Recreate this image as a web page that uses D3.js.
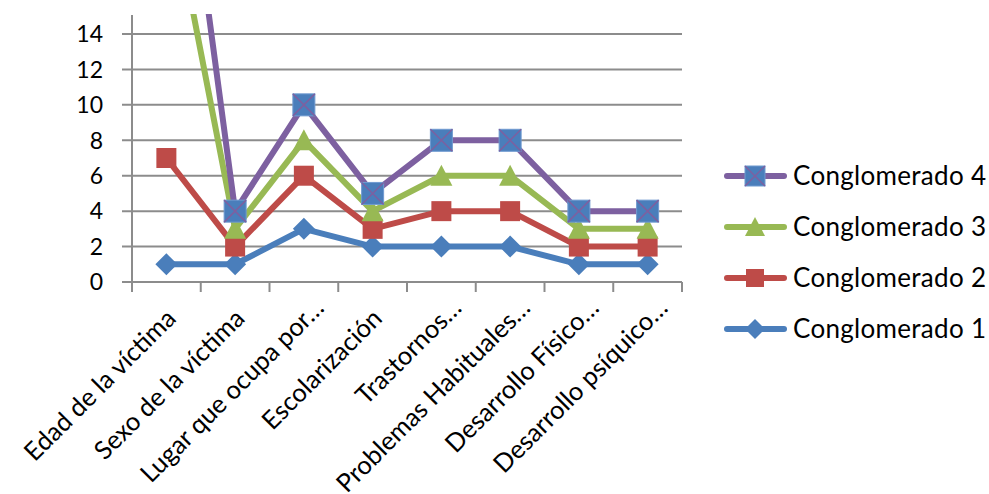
<!DOCTYPE html>
<html>
<head>
<meta charset="utf-8">
<script src="https://cdn.jsdelivr.net/npm/d3@7"></script>
<style>
  html, body { margin: 0; padding: 0; background: #fff; }
  svg { display: block; }
</style>
</head>
<body>
<svg id="chart" width="989" height="494"></svg>
<script>
// Categories along the x axis
const categories = [
  "Edad de la víctima",
  "Sexo de la víctima",
  "Lugar que ocupa por…",
  "Escolarización",
  "Trastornos…",
  "Problemas Habituales…",
  "Desarrollo Físico…",
  "Desarrollo psíquico…"
];

// Series values
const conglomerado1 = [1, 1, 3, 2, 2, 2, 1, 1];
const conglomerado2 = [7, 2, 6, 3, 4, 4, 2, 2];
const conglomerado3 = [23, 3, 8, 4, 6, 6, 3, 3];
const conglomerado4 = [33, 4, 10, 5, 8, 8, 4, 4];

const seriesNames = ["Conglomerado 1", "Conglomerado 2", "Conglomerado 3", "Conglomerado 4"];
const yTicks = [0, 2, 4, 6, 8, 10, 12, 14];

const series = [
  { name: seriesNames[0], values: conglomerado1, color: "#4A7EBB", marker: "diamond" },
  { name: seriesNames[1], values: conglomerado2, color: "#BE4B48", marker: "square" },
  { name: seriesNames[2], values: conglomerado3, color: "#98B954", marker: "triangle" },
  { name: seriesNames[3], values: conglomerado4, color: "#7D60A0", marker: "xsquare" }
];

const svg = d3.select("#chart");
const plot = { left: 132, right: 682, top: 15, bottom: 282 };

const x = d3.scaleBand().domain(categories).range([plot.left, plot.right]);
const y = d3.scaleLinear().domain([0, 14]).range([plot.bottom, 34]);

const gridColor = "#8C8C8C";
const font = "Lato, 'Noto Sans', sans-serif";

// Horizontal gridlines with their tick marks
svg.append("g")
  .selectAll("line")
  .data(yTicks)
  .join("line")
  .attr("x1", plot.left - 10)
  .attr("x2", plot.right)
  .attr("y1", d => y(d))
  .attr("y2", d => y(d))
  .attr("stroke", gridColor)
  .attr("stroke-width", 2);

// Y axis line
svg.append("line")
  .attr("x1", plot.left).attr("x2", plot.left)
  .attr("y1", plot.top).attr("y2", plot.bottom)
  .attr("stroke", gridColor).attr("stroke-width", 2);

// X axis tick marks at category boundaries
const boundaries = categories.map(c => x(c)).concat([plot.right]);
svg.append("g")
  .selectAll("line")
  .data(boundaries)
  .join("line")
  .attr("x1", d => d).attr("x2", d => d)
  .attr("y1", plot.bottom).attr("y2", plot.bottom + 10)
  .attr("stroke", gridColor).attr("stroke-width", 2);

// Y tick labels
svg.append("g")
  .selectAll("text")
  .data(yTicks)
  .join("text")
  .attr("x", 103)
  .attr("y", d => y(d))
  .attr("dy", "0.36em")
  .attr("text-anchor", "end")
  .attr("font-family", font)
  .attr("font-size", 23)
  .attr("fill", "#000")
  .text(d => d);

// Category labels, rotated; truncated labels sit a little further along
svg.append("g")
  .selectAll("text")
  .data(categories)
  .join("text")
  .attr("transform", d => `translate(${x(d) + x.bandwidth() / 2 + 11},${plot.bottom + 38}) rotate(-45)`)
  .attr("dx", d => d.endsWith("…") ? 15 : 0)
  .attr("text-anchor", "end")
  .attr("font-family", font)
  .attr("font-size", 25.5)
  .attr("fill", "#000")
  .text(d => d);

// Clip region for the plotting area
svg.append("defs").append("clipPath").attr("id", "plotClip")
  .append("rect")
  .attr("x", plot.left - 20).attr("y", plot.top - 1)
  .attr("width", plot.right - plot.left + 40).attr("height", plot.bottom - plot.top + 40);

const line = d3.line()
  .x((d, i) => x(categories[i]) + x.bandwidth() / 2)
  .y(d => y(d));

function drawMarker(g, type, color, size) {
  const h = size / 2;
  if (type === "diamond") {
    g.append("path")
      .attr("d", `M0,${-h - 1}L${h + 1},0L0,${h + 1}L${-h - 1},0Z`)
      .attr("fill", color);
  } else if (type === "square") {
    g.append("rect")
      .attr("x", -h).attr("y", -h).attr("width", size).attr("height", size)
      .attr("fill", color);
  } else if (type === "triangle") {
    g.append("path")
      .attr("d", `M0,${-h - 1}L${h + 1},${h}L${-h - 1},${h}Z`)
      .attr("fill", color);
  } else if (type === "xsquare") {
    const s = h + 1;
    g.append("rect")
      .attr("x", -s).attr("y", -s).attr("width", 2 * s).attr("height", 2 * s)
      .attr("fill", "#4A7EBB").attr("stroke", "#6F9AD0").attr("stroke-width", 1);
    g.append("path")
      .attr("d", `M${-s},${-s}L${s},${s}M${s},${-s}L${-s},${s}`)
      .attr("stroke", color).attr("stroke-width", 1.5);
  }
}

const plotG = svg.append("g").attr("clip-path", "url(#plotClip)");

series.forEach(s => {
  const g = plotG.append("g");
  g.append("path")
    .datum(s.values)
    .attr("d", line)
    .attr("fill", "none")
    .attr("stroke", s.color)
    .attr("stroke-width", 6)
    .attr("stroke-linejoin", "round")
    .attr("stroke-linecap", "round");
  s.values.forEach((v, i) => {
    const m = g.append("g")
      .attr("transform", `translate(${x(categories[i]) + x.bandwidth() / 2},${y(v)})`);
    drawMarker(m, s.marker, s.color, 20);
  });
});

// Legend, series listed from last to first
const legend = svg.append("g");
const legendSeries = series.slice().reverse();
legendSeries.forEach((s, i) => {
  const cy = 176 + i * 51;
  const g = legend.append("g");
  g.append("line")
    .attr("x1", 727).attr("x2", 784)
    .attr("y1", cy).attr("y2", cy)
    .attr("stroke", s.color).attr("stroke-width", 6)
    .attr("stroke-linecap", "round");
  const m = g.append("g").attr("transform", `translate(755,${cy})`);
  drawMarker(m, s.marker, s.color, 18);
  g.append("text")
    .attr("x", 793).attr("y", cy)
    .attr("dy", "0.36em")
    .attr("font-family", font)
    .attr("font-size", 26)
    .attr("textLength", 193)
    .attr("lengthAdjust", "spacing")
    .attr("fill", "#000")
    .text(s.name);
});
</script>
</body>
</html>
